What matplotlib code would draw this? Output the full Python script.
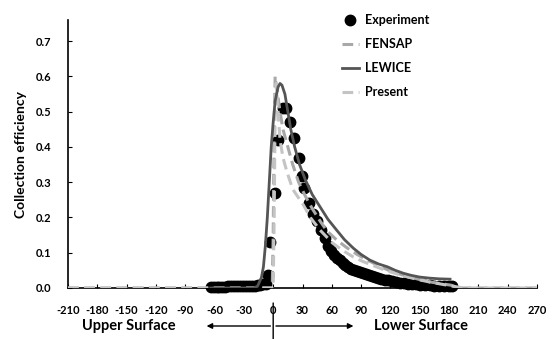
import numpy as np
import matplotlib
matplotlib.use('Agg')
import matplotlib.pyplot as plt

plt.rcParams['font.family'] = ['Lato', 'DejaVu Sans']
plt.rcParams['font.weight'] = 'bold'
plt.rcParams['axes.unicode_minus'] = False

# experiment
exp_s = [-64, -61, -58, -55, -52, -49, -46, -43, -40, -37, -34, -31, -28, -25, -22, -19,
         -16, -13, -10, -7, -5, -3, 2, 5, 10, 13, 17, 21, 26, 29, 32, 37, 41, 45, 49, 53,
         56, 59, 62, 65, 68, 71, 74, 77, 80, 83, 86, 89, 92, 95, 98, 101, 104, 107, 110,
         114, 118, 122, 126, 130, 134, 138, 142, 146, 150, 155, 160, 165, 170, 175, 180, 183]
exp_b = [0.004, 0.004, 0.004, 0.004, 0.004, 0.004, 0.005, 0.005, 0.005, 0.005, 0.005, 0.006,
         0.006, 0.006, 0.007, 0.007, 0.008, 0.009, 0.010, 0.012, 0.037, 0.13, 0.27, 0.42,
         0.51, 0.51, 0.47, 0.425, 0.37, 0.317, 0.283, 0.24, 0.21, 0.19, 0.164, 0.142,
         0.12, 0.105, 0.093, 0.085, 0.078, 0.071, 0.065, 0.060, 0.055, 0.051, 0.047, 0.044,
         0.042, 0.039, 0.036, 0.033, 0.030, 0.028, 0.026, 0.024, 0.022, 0.019, 0.017, 0.015,
         0.014, 0.012, 0.011, 0.010, 0.009, 0.008, 0.008, 0.007, 0.007, 0.006, 0.006, 0.006]

fen_s = [-210, -1, 0, 1, 2, 4, 7, 10, 14, 20, 26, 33, 40, 48, 55, 65, 76, 86, 96, 108,
         120, 130, 140, 150, 161, 172, 182, 190, 270]
fen_b = [0, 0, 0.15, 0.45, 0.60, 0.56, 0.50, 0.45, 0.41, 0.35, 0.30, 0.26, 0.225, 0.19,
         0.162, 0.136, 0.113, 0.095, 0.080, 0.063, 0.048, 0.039, 0.031, 0.024, 0.017,
         0.012, 0.008, 0, 0]

lew_s = [-64, -20, -16, -12, -10, -8, -6, -4, -2, 0, 2, 5, 7, 9, 12, 15, 18, 22, 27, 33,
         40, 48, 56, 65, 73, 82, 90, 99, 108, 117, 125, 133, 141, 150, 160, 170, 181]
lew_b = [0, 0, 0.005, 0.03, 0.06, 0.12, 0.20, 0.30, 0.40, 0.47, 0.53, 0.57, 0.58, 0.575,
         0.55, 0.50, 0.45, 0.40, 0.35, 0.306, 0.265, 0.23, 0.195, 0.164, 0.137, 0.113,
         0.095, 0.079, 0.068, 0.060, 0.050, 0.042, 0.036, 0.031, 0.028, 0.026, 0.025]

pre_s = [-210, 0, 1, 2, 3, 5, 7, 10, 14, 20, 31, 38, 48, 61, 72, 82, 92, 102, 115, 130,
         145, 160, 172, 182, 195, 270]
pre_b = [0, 0, 0.2, 0.5, 0.58, 0.5, 0.42, 0.37, 0.33, 0.28, 0.235, 0.20, 0.164, 0.127,
         0.105, 0.088, 0.075, 0.064, 0.050, 0.037, 0.026, 0.017, 0.011, 0.006, 0, 0]

fig = plt.figure(figsize=(5.6, 3.39), dpi=100)
ax = fig.add_axes([68/560, 1 - 288/339, (537 - 68)/560, (288 - 20)/339])

ax.plot(exp_s, exp_b, 'o', color='black', markersize=7.5, label='Experiment', zorder=3,
        clip_on=False)
ax.plot(fen_s, fen_b, '--', color='#a8a8a8', lw=2.2, dashes=(3.5, 1.8), label='FENSAP', zorder=4)
ax.plot(lew_s, lew_b, '-', color='#555555', lw=2.0, label='LEWICE', zorder=5)
ax.plot(pre_s, pre_b, '--', color='#c4c4c4', lw=2.2, dashes=(3.5, 1.8), label='Present', zorder=4)

ax.set_xlim(-210, 270)
ax.set_ylim(0, 0.76)
ax.set_xticks(np.arange(-210, 271, 30))
ax.set_yticks(np.arange(0, 0.71, 0.1))
ax.set_yticklabels(['%.1f' % v for v in np.arange(0, 0.71, 0.1)])
ax.tick_params(direction='in', length=3, labelsize=8, width=0.8)
ax.tick_params(axis='x', pad=12)
ax.tick_params(axis='y', pad=12)
for lab in ax.get_xticklabels() + ax.get_yticklabels():
    lab.set_fontweight('bold')
ax.spines['top'].set_visible(False)
ax.spines['right'].set_visible(False)
ax.spines['left'].set_linewidth(1.2)
ax.spines['bottom'].set_linewidth(1.2)
ax.set_ylabel('Collection efficiency', fontsize=10, fontweight='bold', labelpad=6)

leg = ax.legend(loc='upper left', bbox_to_anchor=(336/560, 1 - 8/339),
                bbox_transform=fig.transFigure, frameon=False, fontsize=9,
                handlelength=1.3, handletextpad=0.5, labelspacing=0.95, borderpad=0)
for t in leg.get_texts():
    t.set_fontweight('bold')

# surface labels under the axis
fig.text(129/560, 13/339, 'Upper Surface', ha='center', va='center', fontsize=10.5, fontweight='bold')
fig.text(421/560, 13/339, 'Lower Surface', ha='center', va='center', fontsize=10.5, fontweight='bold')
ax.annotate('', xy=(-71, 13), xytext=(0, 13), xycoords=('data', 'figure pixels'),
            textcoords=('data', 'figure pixels'),
            arrowprops=dict(arrowstyle='-|>', color='black', lw=1.0, mutation_scale=8))
ax.annotate('', xy=(85, 13), xytext=(0, 13), xycoords=('data', 'figure pixels'),
            textcoords=('data', 'figure pixels'),
            arrowprops=dict(arrowstyle='-|>', color='black', lw=1.0, mutation_scale=8))
ax.annotate('', xy=(0, 0), xytext=(0, 36), xycoords=('data', 'figure pixels'),
            textcoords=('data', 'figure pixels'),
            arrowprops=dict(arrowstyle='-', color='black', lw=1.0, shrinkA=0, shrinkB=0))

fig.savefig('out.png', dpi=100)
